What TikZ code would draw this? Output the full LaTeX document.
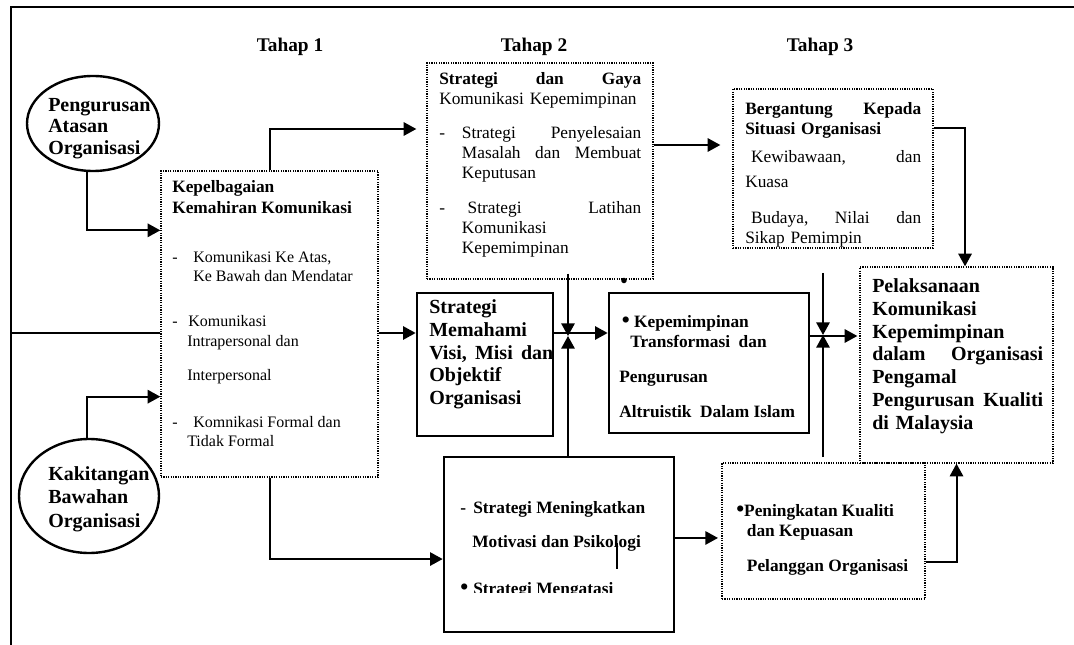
\documentclass[tikz,border=0pt]{standalone}
\usepackage{fontspec}
\setmainfont{Liberation Serif}
\usetikzlibrary{shapes.geometric,arrows.meta}
\newcommand{\bul}{{\fontsize{17}{15}\selectfont •}}
\tikzset{
  dotbox/.style={draw, line width=1pt, dash pattern=on 0.9pt off 0.9pt},
  solidbox/.style={draw, line width=2pt},
  sz/.style 2 args={minimum width=#1*0.75pt, minimum height=#2*0.75pt, inner sep=0pt},
  oval/.style={draw, ellipse, line width=1.8pt, inner sep=0pt},
  txt/.style={anchor=north west, inner sep=0pt, align=left},
  arr/.style={line width=1.5pt, -{Triangle[length=9.5pt,width=10pt]}},
  ln/.style={line width=1.5pt},
  big/.style={font=\fontsize{15}{17.2}\selectfont\bfseries},
  mid/.style={font=\fontsize{13}{15}\selectfont},
  midb/.style={font=\fontsize{13}{15}\selectfont\bfseries},
  small/.style={font=\fontsize{12}{14.6}\selectfont},
}
\begin{document}
\begin{tikzpicture}[x=0.75pt,y=-0.75pt]
\useasboundingbox (0,0) rectangle (1074,645);
\draw[line width=2.2pt] (1074,7) -- (11,7) -- (11,645);

\node[font=\fontsize{14.5}{17}\selectfont\bfseries] (tahap1) at (290,47) {Tahap 1};
\node[font=\fontsize{14.5}{17}\selectfont\bfseries] (tahap2) at (534,47) {Tahap 2};
\node[font=\fontsize{14.5}{17}\selectfont\bfseries] (tahap3) at (820,47) {Tahap 3};

\node[oval, sz={132}{95}] (atasan) at (93,123.5) {};
\node[txt, font=\fontsize{15}{16.1}\selectfont\bfseries] (atasan-t) at (48,98) {Pengurusan\\Atasan\\Organisasi};
\node[oval, sz={140}{114}] (bawahan) at (89,496) {};
\node[txt, font=\fontsize{15}{17.6}\selectfont\bfseries] (bawahan-t) at (48,466) {Kakitangan\\Bawahan\\Organisasi};

\node[dotbox, sz={217}{306}] (kep) at (269.5,324) {};
\node[dotbox, sz={226}{216}] (gaya) at (540,171) {};
\node[dotbox, sz={200}{159}] (berg) at (833,168.5) {};
\node[dotbox, sz={193}{196}] (pelak) at (956.5,365) {};
\node[solidbox, sz={136}{143}] (mem) at (485,364.5) {};
\node[solidbox, sz={200}{140}] (trans) at (709,363) {};
\node[solidbox, sz={230}{175}] (ting) at (559,544.5) {};
\node[dotbox, sz={203}{136}] (pen) at (823.5,531) {};

\node[txt, font=\fontsize{13}{15.75}\selectfont\bfseries] (kep-h) at (172,180) {Kepelbagaian\\Kemahiran Komunikasi};
\node[txt, small] (kep-t) at (172,251) {\makebox[15.75pt][l]{-}Komunikasi Ke Atas,\\
  \hspace*{15.75pt}Ke Bawah dan Mendatar\\[19pt]
  \makebox[12pt][l]{-}Komunikasi\\
  \hspace*{11.25pt}Intrapersonal dan\\[11.5pt]
  \hspace*{11.25pt}Interpersonal\\[20pt]
  \makebox[15.75pt][l]{-}Komnikasi Formal dan\\
  \hspace*{11.25pt}Tidak Formal};

\node[txt, mid, text width=151.5pt] (gaya-t) at (439,72) {\textbf{Strategi\hfill dan\hfill Gaya}\\
  Komunikasi Kepemimpinan\\[11pt]
  \makebox[17pt][l]{-}Strategi\hfill Penyelesaian\\
  \hspace*{17pt}Masalah\hfill dan\hfill Membuat\\
  \hspace*{17pt}Keputusan\\[11pt]
  \makebox[17pt][l]{-}\ Strategi\hfill Latihan\\
  \hspace*{17pt}Komunikasi\\
  \hspace*{17pt}Kepemimpinan};

\node[txt, mid, text width=132pt] (berg-t) at (745,102) {\textbf{Bergantung\hfill Kepada}\\
  \textbf{Situasi Organisasi}\\[6pt]
  \ Kewibawaan,\hfill dan\\[4pt]
  Kuasa\\[12pt]
  \ Budaya,\hfill Nilai\hfill dan\\
  Sikap Pemimpin};

\node[txt, big, text width=128.25pt] (pelak-t) at (872,278) {Pelaksanaan\\Komunikasi\\Kepemimpinan\\dalam\hfill Organisasi\\Pengamal\\Pengurusan\hfill Kualiti\\di Malaysia};

\node[txt, big, text width=93pt] (mem-t) at (429,299) {Strategi\\Memahami\\Visi,\hfill Misi\hfill dan\\Objektif\\Organisasi};

\node[inner sep=0pt] (dot) at (624,283) {\bul};
\node[txt, midb] (trans-t) at (619,315) {\hspace*{2pt}\bul\ Kepemimpinan\\
  \hspace*{8.25pt}Transformasi\ \ dan\\[11.25pt]
  Pengurusan\\[11.25pt]
  Altruistik\ \ Dalam Islam};

\begin{scope}
\clip (444,457) rectangle (674,592);
\node[txt, midb] (ting-t) at (460,501) {\makebox[9.75pt][l]{-}Strategi Meningkatkan\\[10.5pt]
  \hspace*{9pt}Motivasi dan Psikologi\\[20.25pt]
  \makebox[9.75pt][l]{\bul}Strategi Mengatasi};
\end{scope}
\draw[ln] (617,543) -- (617,569);

\node[txt, midb] (pen-t) at (736,504) {\bul Peningkatan Kualiti\\
  \hspace*{8pt}dan Kepuasan\\[11.25pt]
  \hspace*{8pt}Pelanggan Organisasi};

\coordinate (lft) at (11,333);
\coordinate (x1) at (568,336);
\coordinate (x2) at (823,335);
\coordinate (x2a) at (823,273);
\coordinate (x2b) at (823,457);

\draw[arr] ([xshift=-4.5pt]atasan.south) |- ([yshift=-45pt]kep.north west);
\draw[arr] ([xshift=-1.5pt]bawahan.north) |- ([yshift=60.75pt]kep.south west);
\draw[arr, shorten >=7.5pt] (kep.north) |- ([yshift=31.5pt]gaya.west);
\draw[arr] (kep.south) |- ([yshift=-10.9pt]ting.west);
\draw[ln] (lft) -- (kep.west |- lft);
\draw[arr] (kep.east |- lft) -- (mem.west |- lft);
\draw[arr] (mem.east |- lft) -- (trans.west |- lft);
\draw[arr, shorten >=9pt] ([yshift=19.5pt]gaya.east) -- ([yshift=19.5pt]gaya.east -| berg.west);
\draw[arr] ([yshift=30.4pt]berg.east) -| ([xshift=6.4pt]pelak.north);
\draw[arr, shorten >=1.5pt] ([yshift=20.25pt]trans.east) -- ([yshift=20.25pt]trans.east -| pelak.west);
\draw[arr] ([yshift=4.5pt]gaya.south -| x1) -- (x1);
\draw[arr] (ting.north -| x1) -- (x1);
\draw[arr] (x2a) -- (x2);
\draw[arr] (x2b) -- (x2);
\draw[arr, shorten >=2.5pt] ([yshift=4.9pt]ting.east) -- ([yshift=4.9pt]ting.east -| pen.west);
\draw[arr] ([yshift=-23.25pt]pen.east) -| (pelak.south);
\end{tikzpicture}
\end{document}
